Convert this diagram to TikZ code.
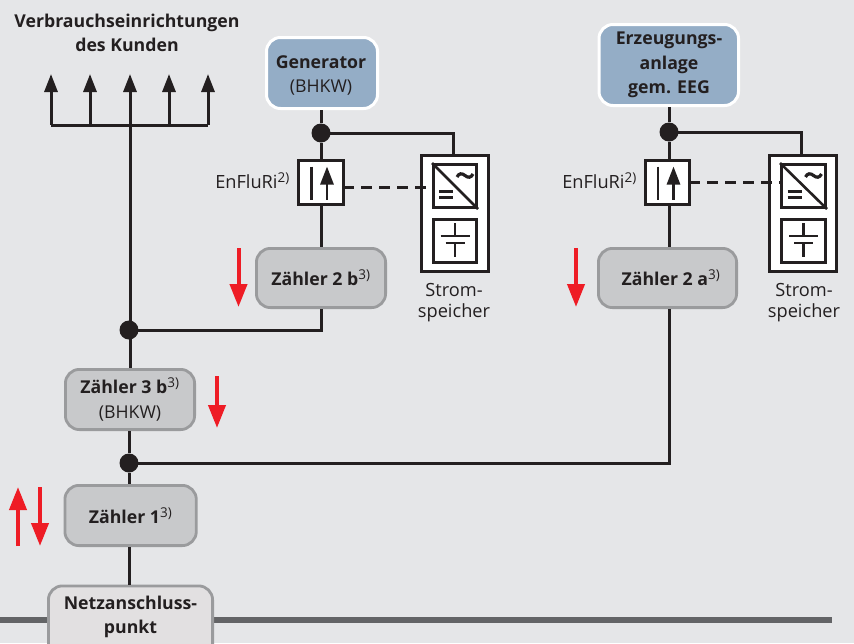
\documentclass[tikz,border=0pt]{standalone}
\usepackage{fontspec}
\setmainfont{Open Sans}
\usetikzlibrary{arrows.meta}
\definecolor{bg}{HTML}{E5E6E8}
\definecolor{ink}{HTML}{231F20}
\definecolor{mgray}{HTML}{C8C9CB}
\definecolor{mborder}{HTML}{9A9B9D}
\definecolor{gblue}{HTML}{94ADC6}
\definecolor{netz}{HTML}{E2E0E1}
\definecolor{bar}{HTML}{636466}
\definecolor{red1}{HTML}{EE1C25}
\tikzset{
 x=1pt,y=-1pt,
 wire/.style={draw=ink,line width=3pt},
 meter/.style={draw=mborder,line width=2.8pt,fill=mgray,rounded corners=14pt,anchor=north west,align=center,text=ink,inner sep=0pt},
 gen/.style={draw=white,line width=3pt,fill=gblue,rounded corners=14pt,anchor=north west,align=center,text=ink,inner sep=0pt},
 dotn/.style={circle,fill=ink,inner sep=0pt,minimum size=19pt},
 wbox/.style={draw=ink,line width=3pt,fill=white,anchor=north west,inner sep=0pt},
 lab/.style={text=ink,align=center,inner sep=0pt},
 redarr/.style={draw=red1,line width=4pt,-{Triangle[length=23pt,width=17pt]}},
 tip/.style={-{Triangle[length=18pt,width=13pt]}},
}
\newcommand{\SB}[1]{\textbf{#1}}
\newcommand{\fnm}[1]{\textsuperscript{\mdseries\fontsize{13.5}{14}\selectfont #1}}
\newcommand{\fbig}{\fontsize{17.7}{24.5}\selectfont}
\newcommand{\fsm}{\fontsize{18.2}{21}\selectfont}
\begin{document}
\begin{tikzpicture}
\useasboundingbox (0,0) rectangle (854,643);
\fill[bg] (0,0) rectangle (854,643);

\coordinate (f1) at (51,125);\coordinate (f2) at (90,125);\coordinate (f3) at (130,125);\coordinate (f4) at (169,125);\coordinate (f5) at (208,125);
\coordinate (t1) at (51,74);\coordinate (t2) at (90,74);\coordinate (t3) at (130,74);\coordinate (t4) at (169,74);\coordinate (t5) at (208,74);
\coordinate (barL) at (0,620);\coordinate (barR) at (832,620);

\draw[draw=bar,line width=5.5pt] (barL) -- (barR);

\node[gen,minimum width=111pt,minimum height=71pt] (gena) at (265,36) {};
\node[gen,minimum width=139.5pt,minimum height=81pt] (genb) at (597.5,23) {};
\node[dotn] (d1) at (321,133) {};
\node[dotn] (d2) at (669,132) {};
\node[dotn] (d3) at (129,330) {};
\node[dotn] (d4) at (129,463) {};

\node[wbox,minimum width=45pt,minimum height=44pt] (e1) at (297,159) {};
\node[wbox,minimum width=44pt,minimum height=44pt] (e2) at (644,159) {};
\node[wbox,minimum width=67pt,minimum height=116pt] (s1) at (420,154) {};
\node[wbox,minimum width=67pt,minimum height=116pt] (s2) at (768,154) {};
\node[wbox,minimum width=43pt,minimum height=43pt] (i1) at (432,163) {};
\node[wbox,minimum width=44pt,minimum height=43pt] (i2) at (780,163) {};
\node[wbox,minimum width=43pt,minimum height=43pt] (b1) at (432,218) {};
\node[wbox,minimum width=44pt,minimum height=43pt] (b2) at (780,218) {};

\node[meter,minimum width=129.2pt,minimum height=59.2pt,font=\fbig] (z2b) at (255,247) {\SB{Zähler 2 b\fnm{3)}}};
\node[meter,minimum width=138.2pt,minimum height=59.2pt,font=\fbig] (z2a) at (597,247) {\hspace*{7pt}\SB{Zähler 2 a\fnm{3)}}};
\node[meter,minimum width=129.2pt,minimum height=60.2pt,font=\fbig] (z3) at (64,368) {\SB{Zähler 3 b\fnm{3)}}\\(BHKW)};
\node[meter,minimum width=131.4pt,minimum height=60.2pt,font=\fbig] (z1) at (63.5,484) {\SB{Zähler 1\fnm{3)}}};
\node[meter,fill=netz,minimum width=164.2pt,minimum height=75pt] (nap) at (47,584.5) {};

\coordinate (cg1) at (321,75.5);
\coordinate (cg2) at (669,65);
\coordinate (cn) at (130.5,617);
\node[lab,font=\fbig] (gt1) at (cg1) {\SB{Generator}\\(BHKW)};
\node[lab,font=\fbig] (gt2) at (cg2) {\SB{Erzeugungs-}\\\SB{anlage}\\\SB{gem. EEG}};
\node[lab,font=\fbig] (naptxt) at (cn) {\SB{Netzanschluss-}\\\SB{punkt}};
\node[lab,font=\fbig] (vt) at (127,33) {\SB{Verbrauchseinrichtungen}\\\SB{des Kunden}};
\node[lab,anchor=east,font=\fsm] (l1) at (290,181) {EnFluRi\fnm{2)}};
\node[lab,anchor=east,font=\fsm] (l2) at (637,181) {EnFluRi\fnm{2)}};
\node[lab,font=\fsm] (st1) at (454,302.5) {Strom-\\speicher};
\node[lab,font=\fsm] (st2) at (804,303) {Strom-\\speicher};

% wires
\draw[wire] (f1) -- (f5);
\foreach \i in {1,2,3,4,5}{\draw[wire,tip] (f\i) -- (t\i);}
\draw[wire] (f3) -- (z3.north -| f3);
\draw[wire] (gena.south -| d1) -- (d1) -- (e1.north -| d1);
\draw[wire] (e1.south -| d1) -- (z2b.north -| d1);
\coordinate (sa1) at (453,154);
\coordinate (sa2) at (801,154);
\draw[wire] (d1.center) -| (sa1);
\draw[wire] (genb.south -| d2) -- (d2) -- (e2.north -| d2);
\draw[wire] (e2.south -| d2) -- (z2a.north -| d2);
\draw[wire] (d2.center) -| (sa2);
\draw[wire] (z2b.south -| d1) |- (d3.center);
\draw[wire] (z2a.south -| d2) |- (d4.center);
\draw[wire] (z3.south -| d4) -- (d4) -- (z1.north -| d4);
\draw[wire] (z1.south -| d4) -- (nap.north -| d4);
\coordinate (da1) at (345,187);\coordinate (db1) at (432,187);
\coordinate (da2) at (691,182);\coordinate (db2) at (780,182);
\draw[wire,dash pattern=on 11pt off 7pt,dash phase=2pt] (da1) -- (db1);
\draw[wire,dash pattern=on 11pt off 7pt,dash phase=2pt] (da2) -- (db2);

% symbols
\foreach \n in {e1,e2}{
 \begin{scope}[shift={(\n.center)}]
 \draw[draw=ink,line width=2.8pt] (-9.5,-16) -- (-9.5,17);
 \draw[draw=ink,line width=2.8pt,-{Triangle[length=18pt,width=13pt]}] (6,17) -- (6,-16);
 \end{scope}
}
\foreach \n in {i1,i2}{
 \draw[draw=ink,line width=2.6pt] (\n.north west) -- (\n.south east);
 \begin{scope}[shift={(\n.center)}]
 \draw[draw=ink,line width=3pt] (-16,5) -- (-2,5);
 \draw[draw=ink,line width=3pt] (-16,11) -- (-2,11);
 \draw[draw=ink,line width=3.2pt] (2,-9) .. controls (4,-13) and (7,-13) .. (10,-10.5) .. controls (13,-8) and (16,-8) .. (18,-12);
 \end{scope}
}
\foreach \n in {b1,b2}{
 \begin{scope}[shift={(\n.center)}]
 \draw[draw=ink,line width=2.6pt] (0,-18) -- (0,-5);
 \draw[draw=ink,line width=2.6pt] (0,2) -- (0,16);
 \draw[draw=ink,line width=2.6pt] (-14.5,-5) -- (14.5,-5);
 \draw[draw=ink,line width=2.6pt] (-9.5,2) -- (9.5,2);
 \end{scope}
}

% red arrows
\coordinate (ra1) at (238.5,248);\coordinate (rb1) at (238.5,307);
\coordinate (ra2) at (576,248);\coordinate (rb2) at (576,307);
\coordinate (ra3) at (217,376);\coordinate (rb3) at (217,428);
\coordinate (ra4) at (40,487);\coordinate (rb4) at (40,546);
\coordinate (ra5) at (18,546);\coordinate (rb5) at (18,487);
\foreach \i in {1,2,3,4,5}{\draw[redarr] (ra\i) -- (rb\i);}
\end{tikzpicture}
\end{document}
